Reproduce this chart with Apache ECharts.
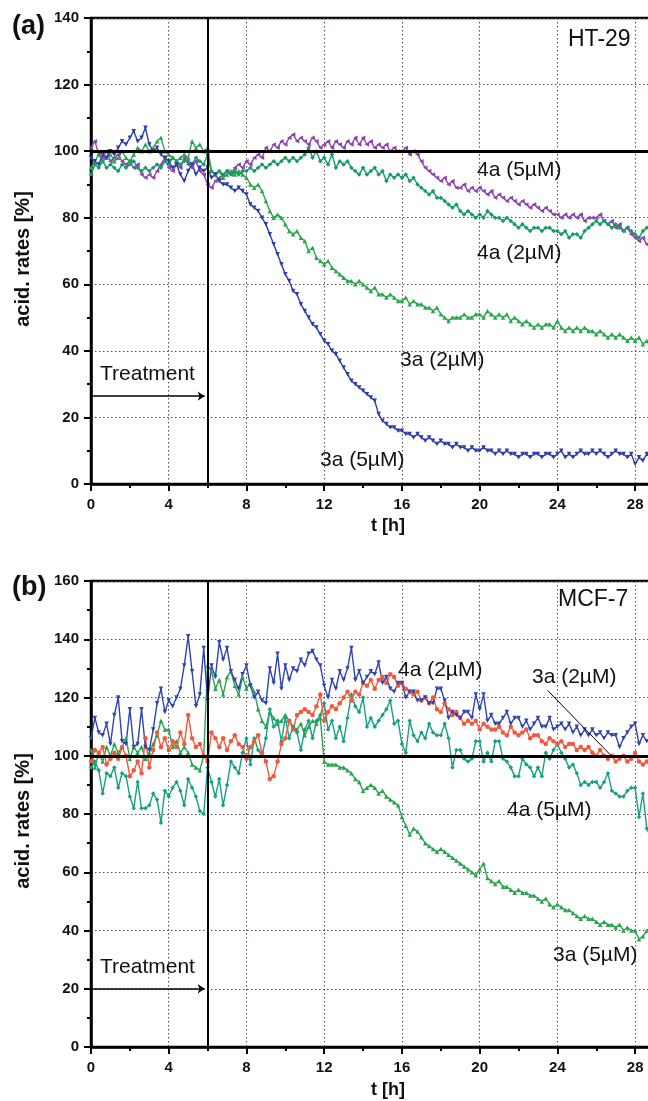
<!DOCTYPE html>
<html><head><meta charset="utf-8">
<script src="https://cdn.jsdelivr.net/npm/echarts@6/dist/echarts.min.js"></script>
<style>html,body{margin:0;padding:0;background:#fff}#c{width:648px;height:1101px}</style>
</head><body><div id="c"></div>
<script>
// sampling step of the recordings (hours)
const STEP = 0.2;
const xTicks = [0,4,8,12,16,20,24,28];

// ---- (a) HT-29 ----
const ht29_3a_5uM = [
98,97,96,99,98, 100,99,101,103,102, 104,106,103,104,107, 102,100,101,99,98, 97,95,96,93,91,
94,96,93,95,94, 95,92,93,91,90, 90,89,88,89,88, 87,84,83,82,80, 78,75,72,69,66,
63,61,58,57,54, 52,50,48,47,45, 43,42,40,39,37, 35,33,31,30,29, 28,27,26,25,21,
19,18,17,17,16, 16,15,15,14,15, 14,13,14,13,12, 13,12,12,11,12, 11,11,10,11,10,
10,11,10,10,9, 10,9,10,9,9, 8,9,9,8,9, 9,8,9,9,8, 9,10,8,9,8,
9,10,9,9,10, 9,10,9,8,9, 10,9,9,8,9, 6,8,7,9,8];
const ht29_3a_2uM = [
95,97,99,97,98, 99,97,98,100,98, 97,99,101,100,102, 100,101,103,104,100, 99,98,97,98,99,
98,103,101,102,100, 101,94,93,94,92, 93,94,93,94,93, 92,90,89,90,88, 85,82,80,81,80,
78,76,75,76,74, 73,70,71,68,67, 66,67,65,64,63, 62,61,61,60,61, 60,59,58,59,57,
57,56,57,56,55, 55,56,54,55,54, 54,53,53,52,53, 51,50,49,50,50, 50,51,50,50,51,
51,50,52,51,50, 51,50,51,49,50, 49,48,49,48,47, 48,47,48,48,47, 49,47,46,47,46,
47,46,47,46,46, 45,46,45,44,45, 44,45,44,43,44, 43,44,42,43,41];
const ht29_4a_2uM = [
93,96,95,97,95, 96,95,94,96,95, 96,97,95,94,95, 94,95,96,95,97, 96,98,97,96,97,
97,96,98,97,96, 99,94,93,94,93, 94,93,94,93,94, 94,95,94,95,96, 95,96,97,96,97,
98,97,98,97,98, 99,101,98,100,97, 98,96,99,95,97, 96,97,95,94,93, 95,93,94,95,93,
94,91,93,92,93, 92,93,91,92,90, 89,88,87,88,86, 86,85,84,83,84, 82,81,82,81,80,
81,80,82,81,80, 80,79,80,79,78, 77,78,77,76,77, 77,76,77,77,76, 76,75,76,74,75,
75,74,76,77,78, 79,78,79,78,77, 78,77,76,77,76, 75,74,76,77,78];
const ht29_4a_5uM = [
101,103,99,98,100, 97,98,99,97,96, 97,95,96,93,92, 93,92,94,96,98, 95,94,96,95,98,
96,95,97,94,93, 90,89,91,92,93, 94,93,95,96,95, 97,96,98,99,98, 101,100,102,101,103,
102,104,105,103,104, 103,102,104,103,101, 102,103,101,103,102, 101,103,102,104,102, 104,102,103,101,102,
101,102,100,101,100, 100,101,99,100,99, 97,95,94,93,92, 91,92,90,91,89, 89,90,88,89,88,
89,88,87,88,86, 87,86,85,86,85, 84,85,84,83,84, 83,82,83,82,81, 81,80,81,80,81,
80,81,79,80,80, 80,81,79,78,79, 77,78,76,77,75, 74,73,74,72,71];

// ---- (b) MCF-7 ----
const mcf7_4a_2uM = [
106,113,108,107,111, 104,114,120,105,104, 116,103,104,116,103, 102,109,118,123,115, 119,117,120,123,131,
141,129,117,121,137, 119,131,127,139,133, 137,129,126,123,128, 131,124,120,122,119, 118,130,125,135,123,
131,126,130,129,133, 131,135,136,133,131, 124,120,126,123,129, 126,130,137,126,129, 125,127,129,128,132,
125,127,123,122,125, 125,120,122,122,119, 119,120,118,118,123, 123,119,113,115,114, 113,115,115,113,121,
116,121,112,114,111, 111,113,115,111,113, 113,110,112,109,111, 113,110,110,113,109, 110,111,109,111,108,
110,107,109,107,109, 107,108,106,108,107, 107,103,106,108,110, 111,104,107,105,106];
const mcf7_3a_2uM = [
98,102,101,103,97, 99,101,99,103,100, 93,95,98,94,106, 96,102,108,103,106, 102,105,103,108,104,
114,106,103,104,100, 98,108,106,103,106, 102,105,107,104,103, 99,103,105,107,101, 98,92,93,98,104,
106,112,109,114,115, 116,115,114,117,121, 112,115,117,116,118, 120,122,119,122,121, 125,124,126,123,126,
127,125,128,127,124, 125,123,122,121,122, 119,120,118,120,116, 115,118,116,114,115, 113,111,112,111,112,
109,111,110,109,109, 110,108,107,110,108, 107,108,109,106,107, 107,105,104,106,105, 104,105,103,104,104,
102,103,102,103,101, 100,102,100,99,100, 98,99,100,98,99, 101,98,97,98,97];
const mcf7_4a_5uM = [
96,98,95,87,94, 93,96,89,94,93, 86,82,91,82,82, 83,87,85,77,88, 86,89,91,88,83,
92,89,86,81,80, 96,91,86,92,83, 90,98,96,94,101, 106,97,106,102,100, 106,116,110,112,105,
113,106,110,108,102, 109,112,106,112,114, 118,109,112,106,110, 105,113,121,117,115, 120,110,113,110,112,
114,116,119,111,112, 104,101,112,107,105, 108,106,111,108,107, 107,111,106,96,102, 102,99,98,99,105,
105,98,101,98,105, 105,99,98,96,93, 93,99,97,96,93, 96,93,101,99,102, 104,101,99,96,97,
94,90,91,90,91, 91,89,91,94,88, 87,86,86,88,89, 89,79,87,75,72];
const mcf7_3a_5uM = [
102,96,101,98,103, 100,104,101,103,106, 99,103,101,103,99, 101,104,107,112,109, 109,103,105,101,103,
101,97,96,95,100, 131,129,123,126,121, 127,129,124,121,127, 123,125,122,116,112, 110,115,113,111,112,
114,112,110,109,111, 107,110,112,111,113, 98,97,97,97,96, 96,95,94,92,91, 88,89,90,89,87,
88,86,85,84,83, 79,76,73,75,74, 72,70,69,68,67, 68,67,66,65,64, 63,62,61,60,59,
61,63,58,57,56, 57,55,55,54,53, 54,53,53,52,52, 51,50,51,49,48, 49,48,47,47,46,
45,44,45,44,44, 43,42,43,42,42, 41,42,40,41,40, 40,37,38,40,41];

const FONT = "'Liberation Sans', Arial, sans-serif";
const chart = echarts.init(document.getElementById('c'), null, {renderer:'canvas'});

function pts(arr){ return arr.map((v,i)=>[+(i*STEP).toFixed(1), v]); }
function ser(name, arr, color, symbol, rot, gi, extra){
  return Object.assign({
    type:'line', name, xAxisIndex:gi, yAxisIndex:gi, data:pts(arr),
    symbol, symbolSize:4.5, symbolRotate:rot, showSymbol:true, showAllSymbol:true,
    lineStyle:{width:1.4, color}, itemStyle:{color}, animation:false, silent:true
  }, extra||{});
}
function xAx(gi){
  return {
    type:'value', gridIndex:gi, min:0, max:30, interval:4,
    axisLine:{show:true, lineStyle:{color:'#000', width:2.5}},
    axisTick:{show:true, inside:false, length:7, lineStyle:{color:'#000', width:2}},
    minorTick:{show:true, splitNumber:2, length:4, lineStyle:{color:'#000', width:2}},
    axisLabel:{margin:13, fontSize:15, fontWeight:'bold', color:'#111', fontFamily:FONT,
      formatter:v=> (xTicks.indexOf(v)>=0 ? String(v) : '')},
    splitLine:{show:true, lineStyle:{color:'#5a4d48', width:1, type:[1.5,2.5]}}
  };
}
function yAx(gi, max){
  return {
    type:'value', gridIndex:gi, min:0, max:max, interval:20,
    axisLine:{show:true, lineStyle:{color:'#000', width:2.5}},
    axisTick:{show:true, inside:false, length:7, lineStyle:{color:'#000', width:2}},
    minorTick:{show:true, splitNumber:2, length:4, lineStyle:{color:'#000', width:2}},
    axisLabel:{margin:12, fontSize:15, fontWeight:'bold', color:'#111', fontFamily:FONT},
    splitLine:{show:true, lineStyle:{color:'#5a4d48', width:1, type:[1.5,2.5]}}
  };
}
function marks(arrowY, extraLines){
  const data = [
    {yAxis:100, lineStyle:{color:'#000', width:3, type:'solid'}},
    {xAxis:6, lineStyle:{color:'#000', width:2, type:'solid'}},
    [{coord:[0,arrowY], symbol:'none'}, {coord:[5.85,arrowY], symbol:'arrow', symbolSize:7, lineStyle:{color:'#000', width:1.5, type:'solid'}}]
  ].concat(extraLines||[]);
  return {markLine:{silent:true, symbol:['none','none'], label:{show:false}, animation:false,
    lineStyle:{color:'#000', width:1.5, type:'solid'}, emphasis:{disabled:true}, data}};
}
function T(x,y,s,size,weight,rot,align){
  return {type:'text', x, y, rotation:rot||0, z:100, silent:true,
    style:{text:s, font:(weight||'normal')+' '+size+'px '+FONT, fill:'#111',
      align:align||'left', textAlign:align||'left', verticalAlign:'middle', textVerticalAlign:'middle'}};
}

const option = {
  backgroundColor:'#fff',
  animation:false,
  grid:[
    {left:91, top:18, width:583, height:466, show:true, borderColor:'#000', borderWidth:2.5,
     backgroundColor:'transparent', containLabel:false, outerBoundsMode:'none'},
    {left:91, top:581, width:583, height:466, show:true, borderColor:'#000', borderWidth:2.5,
     backgroundColor:'transparent', containLabel:false, outerBoundsMode:'none'}
  ],
  xAxis:[xAx(0), xAx(1)],
  yAxis:[yAx(0,140), yAx(1,160)],
  series:[
    ser('4a (5µM)', ht29_4a_5uM, '#8e44b0', 'triangle', 90, 0),
    ser('4a (2µM)', ht29_4a_2uM, '#169a66', 'diamond', 0, 0),
    ser('3a (2µM)', ht29_3a_2uM, '#26a84a', 'triangle', 0, 0),
    ser('3a (5µM)', ht29_3a_5uM, '#2b3da8', 'triangle', 180, 0, marks(26.4)),
    ser('3a (5µM) b', mcf7_3a_5uM, '#27a54c', 'triangle', 0, 1),
    ser('4a (5µM) b', mcf7_4a_5uM, '#16a085', 'diamond', 0, 1),
    ser('3a (2µM) b', mcf7_3a_2uM, '#f4583c', 'circle', 0, 1),
    ser('4a (2µM) b', mcf7_4a_2uM, '#2e44b2', 'triangle', 180, 1,
      marks(20, [[{coord:[23.5,122.4], symbol:'none'}, {coord:[26.9,99.1], symbol:'none', lineStyle:{color:'#000', width:1, type:'solid'}}]]))
  ],
  graphic:[
    T(12,27,'(a)',27,'bold'),
    T(12,588,'(b)',27,'bold'),
    T(23,259,'acid. rates [%]',20,'bold',Math.PI/2,'center'),
    T(23,821,'acid. rates [%]',20,'bold',Math.PI/2,'center'),
    T(388,526,'t [h]',18,'bold',0,'center'),
    T(388,1090,'t [h]',18,'bold',0,'center'),
    T(568,40,'HT-29',23),
    T(558,600,'MCF-7',23),
    T(477,170,'4a (5µM)',21),
    T(477,253,'4a (2µM)',21),
    T(400,360,'3a (2µM)',21),
    T(320,460,'3a (5µM)',21),
    T(100,374,'Treatment',21),
    T(398,670,'4a (2µM)',21),
    T(532,677,'3a (2µM)',21),
    T(507,810,'4a (5µM)',21),
    T(553,955,'3a (5µM)',21),
    T(100,967,'Treatment',21)
  ]
};
chart.setOption(option);
</script></body></html>
